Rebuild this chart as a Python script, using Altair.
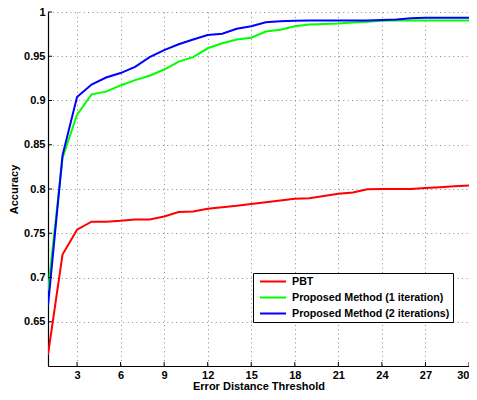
import altair as alt
import pandas as pd

thresholds = list(range(1, 31))
pbt = [0.613, 0.726, 0.754, 0.763, 0.763, 0.764, 0.7655, 0.7655, 0.769, 0.774,
       0.7747, 0.7777, 0.7795, 0.781, 0.783, 0.785, 0.787, 0.789, 0.7895, 0.792,
       0.7946, 0.796, 0.7998, 0.800, 0.800, 0.800, 0.8012, 0.802, 0.803, 0.804]
iter1 = [0.685, 0.835, 0.884, 0.907, 0.910, 0.917, 0.923, 0.928, 0.935, 0.944,
         0.949, 0.959, 0.9646, 0.969, 0.971, 0.978, 0.980, 0.984, 0.986, 0.9865,
         0.987, 0.988, 0.989, 0.990, 0.9905, 0.9905, 0.9905, 0.9905, 0.9905, 0.9905]
iter2 = [0.668, 0.838, 0.904, 0.918, 0.926, 0.931, 0.938, 0.949, 0.957, 0.9635,
         0.969, 0.974, 0.9755, 0.981, 0.984, 0.9885, 0.9896, 0.990, 0.9905, 0.9905,
         0.9905, 0.9905, 0.9905, 0.991, 0.9915, 0.993, 0.9935, 0.9935, 0.9935, 0.9935]
series_names = ["PBT", "Proposed Method (1 iteration)", "Proposed Method (2 iterations)"]
series_colors = ["#ff0000", "#00ff00", "#0000ff"]
x_ticks = [3, 6, 9, 12, 15, 18, 21, 24, 27, 30]
y_ticks = [0.65, 0.7, 0.75, 0.8, 0.85, 0.9, 0.95, 1.0]

rows = []
for name, vals in zip(series_names, [pbt, iter1, iter2]):
    for t, v in zip(thresholds, vals):
        rows.append({"threshold": t, "accuracy": v, "series": name})
df = pd.DataFrame(rows)

W, H = 421, 354
FONT = "Liberation Sans"

xscale = alt.Scale(domain=[1, 30], nice=False, zero=False)
yscale = alt.Scale(domain=[0.6, 1.0], nice=False, zero=False)

lines = alt.Chart(df).mark_line(strokeWidth=2, clip=True).encode(
    x=alt.X("threshold:Q", scale=xscale,
            axis=alt.Axis(values=x_ticks, title="Error Distance Threshold",
                          grid=True, tickSize=0, labelPadding=3,
                          titleY=20, titleBaseline="middle")),
    y=alt.Y("accuracy:Q", scale=yscale,
            axis=alt.Axis(values=y_ticks, title="Accuracy", format=".2~f",
                          grid=True, tickSize=0, labelPadding=3,
                          titleX=-34, titleY=H / 2, titleAngle=-90,
                          titleAlign="center", titleBaseline="middle")),
    color=alt.Color("series:N",
                    scale=alt.Scale(domain=series_names, range=series_colors),
                    legend=alt.Legend(title=None, orient="none",
                                      legendX=205, legendY=261,
                                      symbolType="stroke", symbolSize=676,
                                      symbolStrokeWidth=2, symbolOffset=3,
                                      clipHeight=11,
                                      strokeColor="black", fillColor="white",
                                      padding=3, labelOffset=5, rowPadding=4,
                                      labelLimit=300,
                                      labelFont=FONT, labelFontSize=10.7,
                                      labelFontWeight="bold", labelColor="black")),
    order=alt.Order("threshold:Q"),
)

xt = pd.DataFrame({"t": x_ticks})
yt = pd.DataFrame({"t": y_ticks})
xticks = alt.Chart(xt).mark_rule(color="black", strokeWidth=1).encode(
    x=alt.X("t:Q", scale=xscale), y=alt.value(H), y2=alt.value(H - 4))
yticks = alt.Chart(yt).mark_rule(color="black", strokeWidth=1).encode(
    y=alt.Y("t:Q", scale=yscale), x=alt.value(0), x2=alt.value(4))

chart = alt.layer(lines, xticks, yticks).properties(
    width=W, height=H,
    autosize=alt.AutoSizeParams(type="none"),
    padding={"left": 40, "top": 4, "right": 0, "bottom": 26},
).configure_view(stroke=None).configure_axis(
    domainColor="black", domainWidth=1.2,
    gridColor="#888888", gridDash=[1, 3.4], gridWidth=1, gridOpacity=1,
    labelFont=FONT, labelFontSize=11, labelFontWeight="bold", labelColor="black",
    titleFont=FONT, titleFontSize=11, titleFontWeight="bold", titleColor="black",
)

chart.save("out.html", embed_options={"renderer": "svg", "actions": False})
